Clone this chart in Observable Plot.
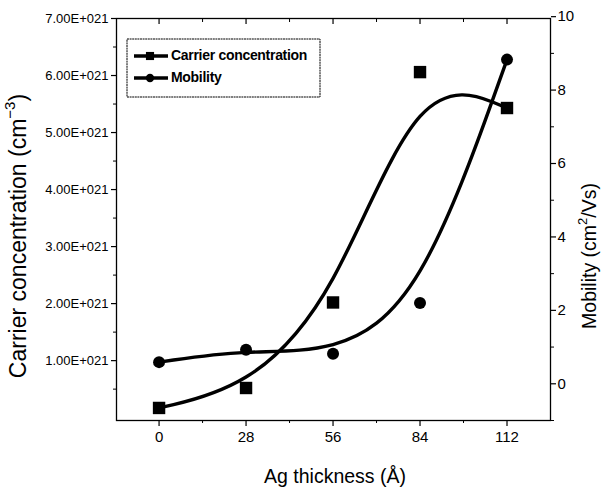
<!DOCTYPE html>
<html>
<head>
<meta charset="utf-8">
<script src="https://cdn.jsdelivr.net/npm/d3@7"></script>
<script src="https://cdn.jsdelivr.net/npm/@observablehq/plot@0.6"></script>
<style>
  html, body { margin: 0; padding: 0; background: white; }
</style>
</head>
<body>
<div id="chart"></div>
<script>
// ---- data ----
const thickness = [0, 28, 56, 84, 112];            // Ag thickness (Å)
const carrier = [0.17, 0.52, 2.02, 6.06, 5.43];    // carrier concentration, ×1e21 cm^-3
const mobility = [0.59, 0.93, 0.82, 2.2, 8.83];    // mobility, cm^2/Vs
const xTicks = [0, 28, 56, 84, 112];
const xMinorTicks = [14, 42, 70, 98];
const leftTicks = [1, 2, 3, 4, 5, 6, 7];
const leftTickLabels = ["1.00E+021", "2.00E+021", "3.00E+021", "4.00E+021", "5.00E+021", "6.00E+021", "7.00E+021"];
const leftMinorTicks = [0.5, 1.5, 2.5, 3.5, 4.5, 5.5, 6.5];
const rightTicks = [0, 2, 4, 6, 8, 10];
const rightMinorTicks = [-1, 1, 3, 5, 7, 9];
const seriesNames = ["Carrier concentration", "Mobility"];

// ---- scales ----
const leftDomain = [-0.05, 7];
const rightDomain = [-1.0, 9.95];
const toLeft = m => leftDomain[0] + (m - rightDomain[0]) * (leftDomain[1] - leftDomain[0]) / (rightDomain[1] - rightDomain[0]);
const fromLeft = v => rightDomain[0] + (v - leftDomain[0]) * (rightDomain[1] - rightDomain[0]) / (leftDomain[1] - leftDomain[0]);

const carrierData = thickness.map((t, i) => ({t, v: carrier[i]}));
const mobilityData = thickness.map((t, i) => ({t, v: toLeft(mobility[i])}));

const font = "'Liberation Sans', Arial, Helvetica, sans-serif";

const chart = Plot.plot({
  width: 608,
  height: 491,
  marginLeft: 116,
  marginRight: 58,
  marginTop: 18,
  marginBottom: 71,
  style: {fontFamily: font, background: "white", color: "black", overflow: "visible"},
  x: {domain: [-13.7, 126]},
  y: {domain: leftDomain},
  marks: [
    Plot.frame({stroke: "black", strokeWidth: 1.3}),
    // bottom axis
    Plot.axisX(xTicks, {anchor: "bottom", tickSize: 6, tickPadding: 5, fontSize: 15, label: null, strokeWidth: 1.2}),
    Plot.axisX(xMinorTicks, {anchor: "bottom", tickSize: 3, tickFormat: () => "", label: null}),
    // top axis (inward ticks)
    Plot.axisX(xTicks, {anchor: "top", tickSize: -5, tickFormat: () => "", label: null, strokeWidth: 1.2}),
    Plot.axisX(xMinorTicks, {anchor: "top", tickSize: -3, tickFormat: () => "", label: null}),
    // left axis
    Plot.axisY(leftTicks, {anchor: "left", tickSize: 5, tickPadding: 3, fontSize: 13, tickFormat: d => leftTickLabels[leftTicks.indexOf(d)], label: null, strokeWidth: 1.2}),
    Plot.axisY(leftMinorTicks, {anchor: "left", tickSize: 3, tickFormat: () => "", label: null}),
    // right axis (mobility)
    Plot.axisY(rightTicks.map(toLeft), {anchor: "right", tickSize: 5, tickPadding: 2, fontSize: 15, tickFormat: d => String(Math.round(fromLeft(d))), label: null, strokeWidth: 1.2}),
    Plot.axisY(rightMinorTicks.map(toLeft), {anchor: "right", tickSize: 3, tickFormat: () => "", label: null}),
    // series
    Plot.line(carrierData, {x: "t", y: "v", curve: "basis", stroke: "black", strokeWidth: 3.4}),
    Plot.line(mobilityData, {x: "t", y: "v", curve: "basis", stroke: "black", strokeWidth: 3.4}),
    Plot.dot(carrierData, {x: "t", y: "v", symbol: "square", r: 7, fill: "black", stroke: "none"}),
    Plot.dot(mobilityData, {x: "t", y: "v", symbol: "circle", r: 6, fill: "black", stroke: "none"})
  ]
});

document.getElementById("chart").appendChild(chart);

// ---- axis titles and legend ----
const svg = d3.select(chart);

// left axis title
const lt = svg.append("text")
  .attr("transform", "translate(20,236) rotate(-90)")
  .attr("text-anchor", "middle")
  .attr("dominant-baseline", "middle")
  .attr("font-family", font)
  .attr("font-size", 23)
  .attr("fill", "black");
lt.append("tspan").text("Carrier concentration (cm");
lt.append("tspan").attr("font-size", 15).attr("dy", -9).text("−3");
lt.append("tspan").attr("dy", 9).text(")");

// right axis title
const rt = svg.append("text")
  .attr("transform", "translate(591,256) rotate(-90)")
  .attr("text-anchor", "middle")
  .attr("dominant-baseline", "middle")
  .attr("font-family", font)
  .attr("font-size", 19.5)
  .attr("fill", "black");
rt.append("tspan").text("Mobility (cm");
rt.append("tspan").attr("font-size", 13).attr("dy", -7).text("2");
rt.append("tspan").attr("dy", 7).text("/Vs)");

// x axis title
svg.append("text")
  .attr("x", 335).attr("y", 478)
  .attr("text-anchor", "middle")
  .attr("dominant-baseline", "middle")
  .attr("font-family", font)
  .attr("font-size", 19.5)
  .attr("fill", "black")
  .text("Ag thickness (Å)");

// legend
const lg = svg.append("g");
lg.append("rect")
  .attr("x", 127).attr("y", 39).attr("width", 193).attr("height", 58)
  .attr("fill", "white").attr("stroke", "black").attr("stroke-width", 1).attr("stroke-dasharray", "2,0.6");
const symbols = [d3.symbolSquare, d3.symbolCircle];
const sizes = [110, 90];
seriesNames.forEach((name, i) => {
  const yy = 56 + i * 22;
  lg.append("line").attr("x1", 134).attr("x2", 168).attr("y1", yy).attr("y2", yy)
    .attr("stroke", "black").attr("stroke-width", 3.4);
  lg.append("path").attr("d", d3.symbol(symbols[i], sizes[i] * 0.6)())
    .attr("transform", `translate(150,${yy})`).attr("fill", "black");
  lg.append("text").attr("x", 171).attr("y", yy)
    .attr("text-anchor", "start")
    .attr("dominant-baseline", "middle")
    .attr("font-family", font).attr("font-size", 14).attr("font-weight", "bold")
    .attr("letter-spacing", -0.3)
    .attr("fill", "black").text(name);
});
</script>
</body>
</html>
